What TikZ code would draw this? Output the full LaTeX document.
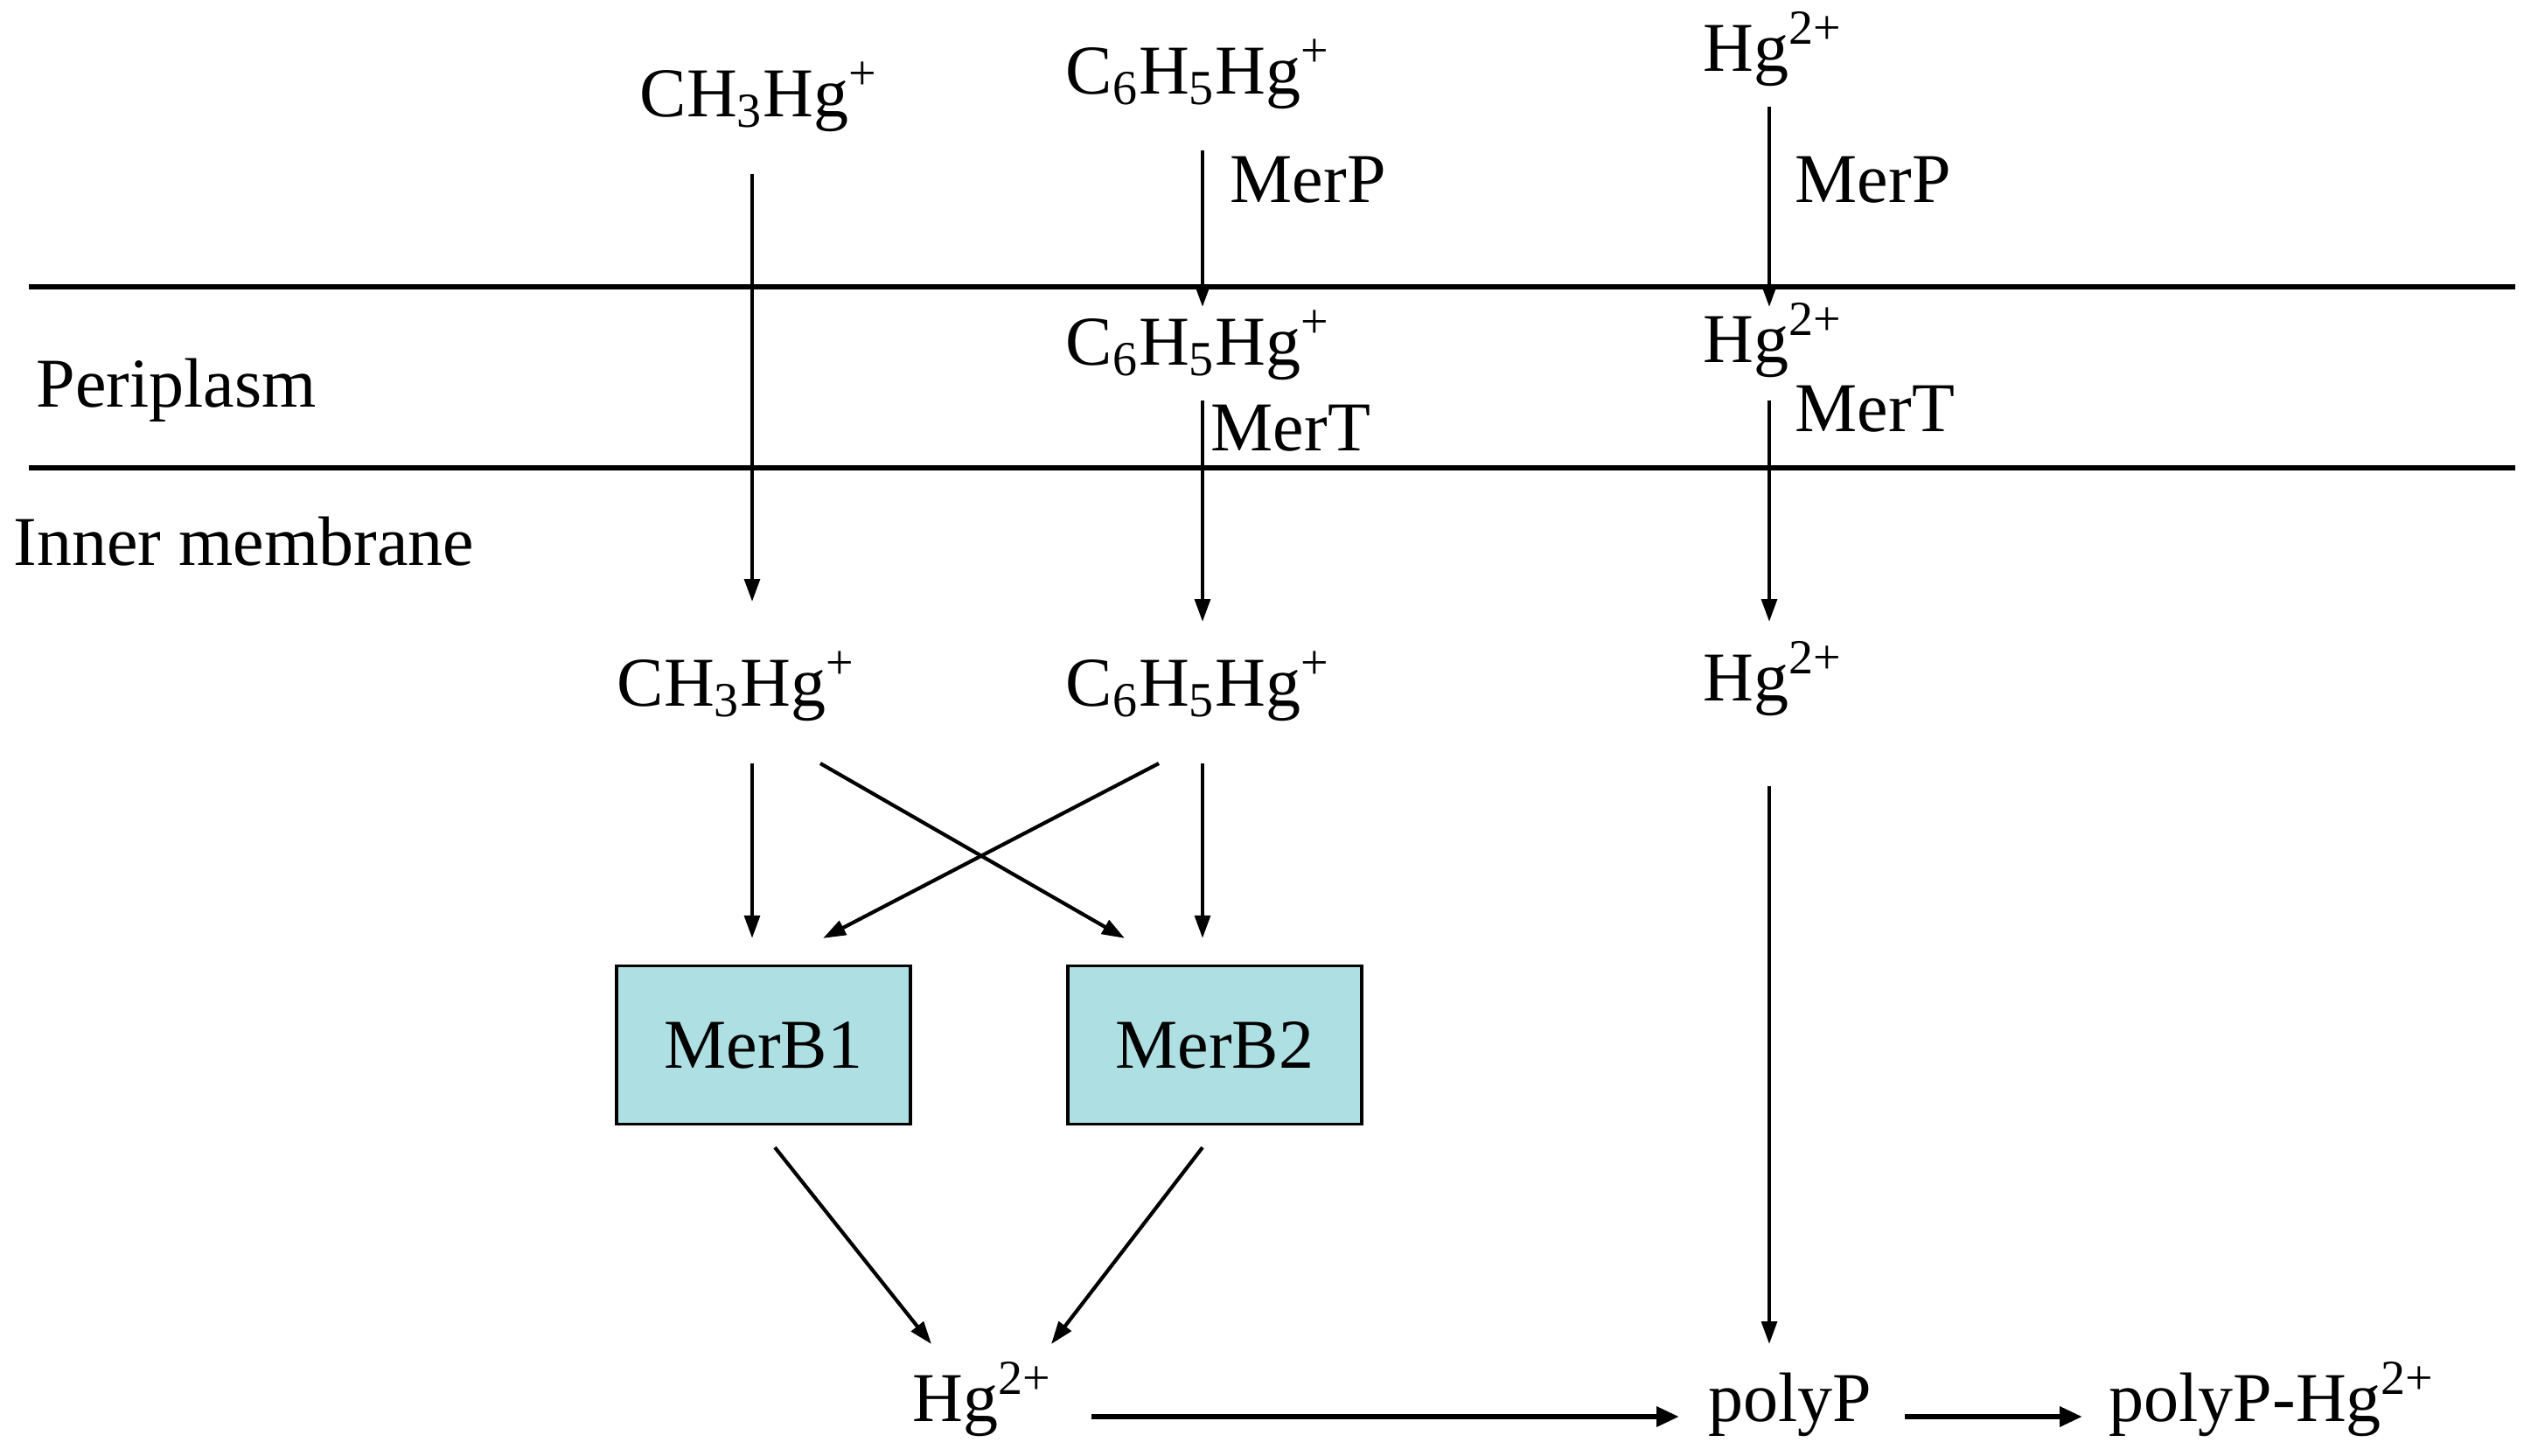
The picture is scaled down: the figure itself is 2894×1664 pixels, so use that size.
\documentclass[tikz,border=0pt]{standalone}
\usepackage{fontspec}
\setmainfont{Liberation Serif}
\usetikzlibrary{arrows.meta}
\definecolor{boxfill}{RGB}{173,223,227}
\tikzset{
  lbl/.style={inner sep=0pt, font=\fontsize{20}{24}\selectfont},
  arr/.style={line width=1.05pt, -{Triangle[length=6.5pt,width=4.4pt]}},
  bigarr/.style={line width=1.6pt, -{Triangle[length=6.5pt,width=5.5pt]}},
  membrane/.style={line width=1.5pt},
  enzbox/.style={draw, line width=0.8pt, fill=boxfill, minimum width=84pt, minimum height=45.25pt, inner sep=0pt, font=\fontsize{20}{24}\selectfont}
}
\newcommand{\mhg}{CH\textsubscript{3}Hg\textsuperscript{+}}
\newcommand{\phg}{C\textsubscript{6}H\textsubscript{5}Hg\textsuperscript{+}}
\newcommand{\hgtwo}{Hg\textsuperscript{2+}}
\begin{document}
\begin{tikzpicture}[x=0.25pt,y=-0.25pt]
\useasboundingbox[fill=white] (0,0) rectangle (2894,1664);
% membranes
\coordinate (l1a) at (33,328);
\coordinate (l1b) at (2876,328);
\coordinate (l2a) at (33,535);
\coordinate (l2b) at (2876,535);
\draw[membrane] (l1a) -- (l1b);
\draw[membrane] (l2a) -- (l2b);
\node[lbl, anchor=base west] (peri) at (41,465) {Periplasm};
\node[lbl, anchor=base west] (inner) at (15,646) {Inner membrane};
% top row
\node[lbl, anchor=base] (t1) at (868,133) {\mhg};
\node[lbl, anchor=base] (t2) at (1370,107) {\phg};
\node[lbl, anchor=base] (t3) at (2027,81) {\hgtwo};
% periplasm row
\node[lbl, anchor=base] (p2) at (1370,417) {\phg};
\node[lbl, anchor=base] (p3) at (2027,414) {\hgtwo};
% labels
\node[lbl, anchor=base west] (merp1) at (1406,231) {MerP};
\node[lbl, anchor=base west] (merp2) at (2052,231) {MerP};
\node[lbl, anchor=base west] (mert1) at (1384,515) {MerT};
\node[lbl, anchor=base west] (mert2) at (2052,493) {MerT};
% cytoplasm row
\node[lbl, anchor=base] (m1) at (842,807) {\mhg};
\node[lbl, anchor=base] (m2) at (1370,807) {\phg};
\node[lbl, anchor=base] (m3) at (2027,801) {\hgtwo};
% enzymes
\node[enzbox] (b1) at (873,1195) {MerB1};
\node[enzbox] (b2) at (1389,1195) {MerB2};
% bottom row
\node[lbl, anchor=base] (h) at (1123,1625) {\hgtwo};
\node[lbl, anchor=base] (pp) at (2047,1625) {polyP};
\node[lbl, anchor=base] (fin) at (2598,1625) {polyP-Hg\textsuperscript{2+}};
% transport arrows
\draw[arr] ([xshift=-2pt,yshift=-16.5pt]t1.base) -- ([xshift=4.5pt,yshift=29.75pt]m1.base);
\draw[arr] ([xshift=1.25pt,yshift=-16.25pt]t2.base) -- ([xshift=1.25pt,yshift=16.5pt]p2.base);
\draw[arr] ([xshift=-1pt,yshift=-10.25pt]t3.base) -- ([xshift=-1pt,yshift=15.75pt]p3.base);
\draw[arr] ([xshift=1.25pt,yshift=-10.25pt]p2.base) -- ([xshift=1.25pt,yshift=24pt]m2.base);
\draw[arr] ([xshift=-1pt,yshift=-11pt]p3.base) -- ([xshift=-1pt,yshift=22.5pt]m3.base);
% to enzymes
\draw[arr] ([xshift=4.5pt,yshift=-16.5pt]m1.base) -- ([xshift=-3.25pt,yshift=7.5pt]b1.north);
\draw[arr] ([xshift=24pt,yshift=-16.5pt]m1.base) -- ([xshift=-25.75pt,yshift=7.5pt]b2.north);
\draw[arr] ([xshift=-11.25pt,yshift=-16.5pt]m2.base) -- ([xshift=17pt,yshift=7.5pt]b1.north);
\draw[arr] ([xshift=1.25pt,yshift=-16.5pt]m2.base) -- ([xshift=-3.5pt,yshift=7.5pt]b2.north);
% from enzymes
\draw[arr] ([xshift=3.25pt,yshift=-6.25pt]b1.south) -- ([xshift=-14.5pt,yshift=22pt]h.base);
\draw[arr] ([xshift=-3.5pt,yshift=-6.25pt]b2.south) -- ([xshift=19.75pt,yshift=22pt]h.base);
\draw[arr] ([xshift=-1pt,yshift=-24.5pt]m3.base) -- ([xshift=-6pt,yshift=22pt]pp.base);
% bottom arrows
\draw[bigarr] ([xshift=31.25pt,yshift=1.25pt]h.base) -- ([xshift=-31.75pt,yshift=1.25pt]pp.base);
\draw[bigarr] ([xshift=32.75pt,yshift=1.25pt]pp.base) -- ([xshift=-54.25pt,yshift=1.25pt]fin.base);
\end{tikzpicture}
\end{document}
